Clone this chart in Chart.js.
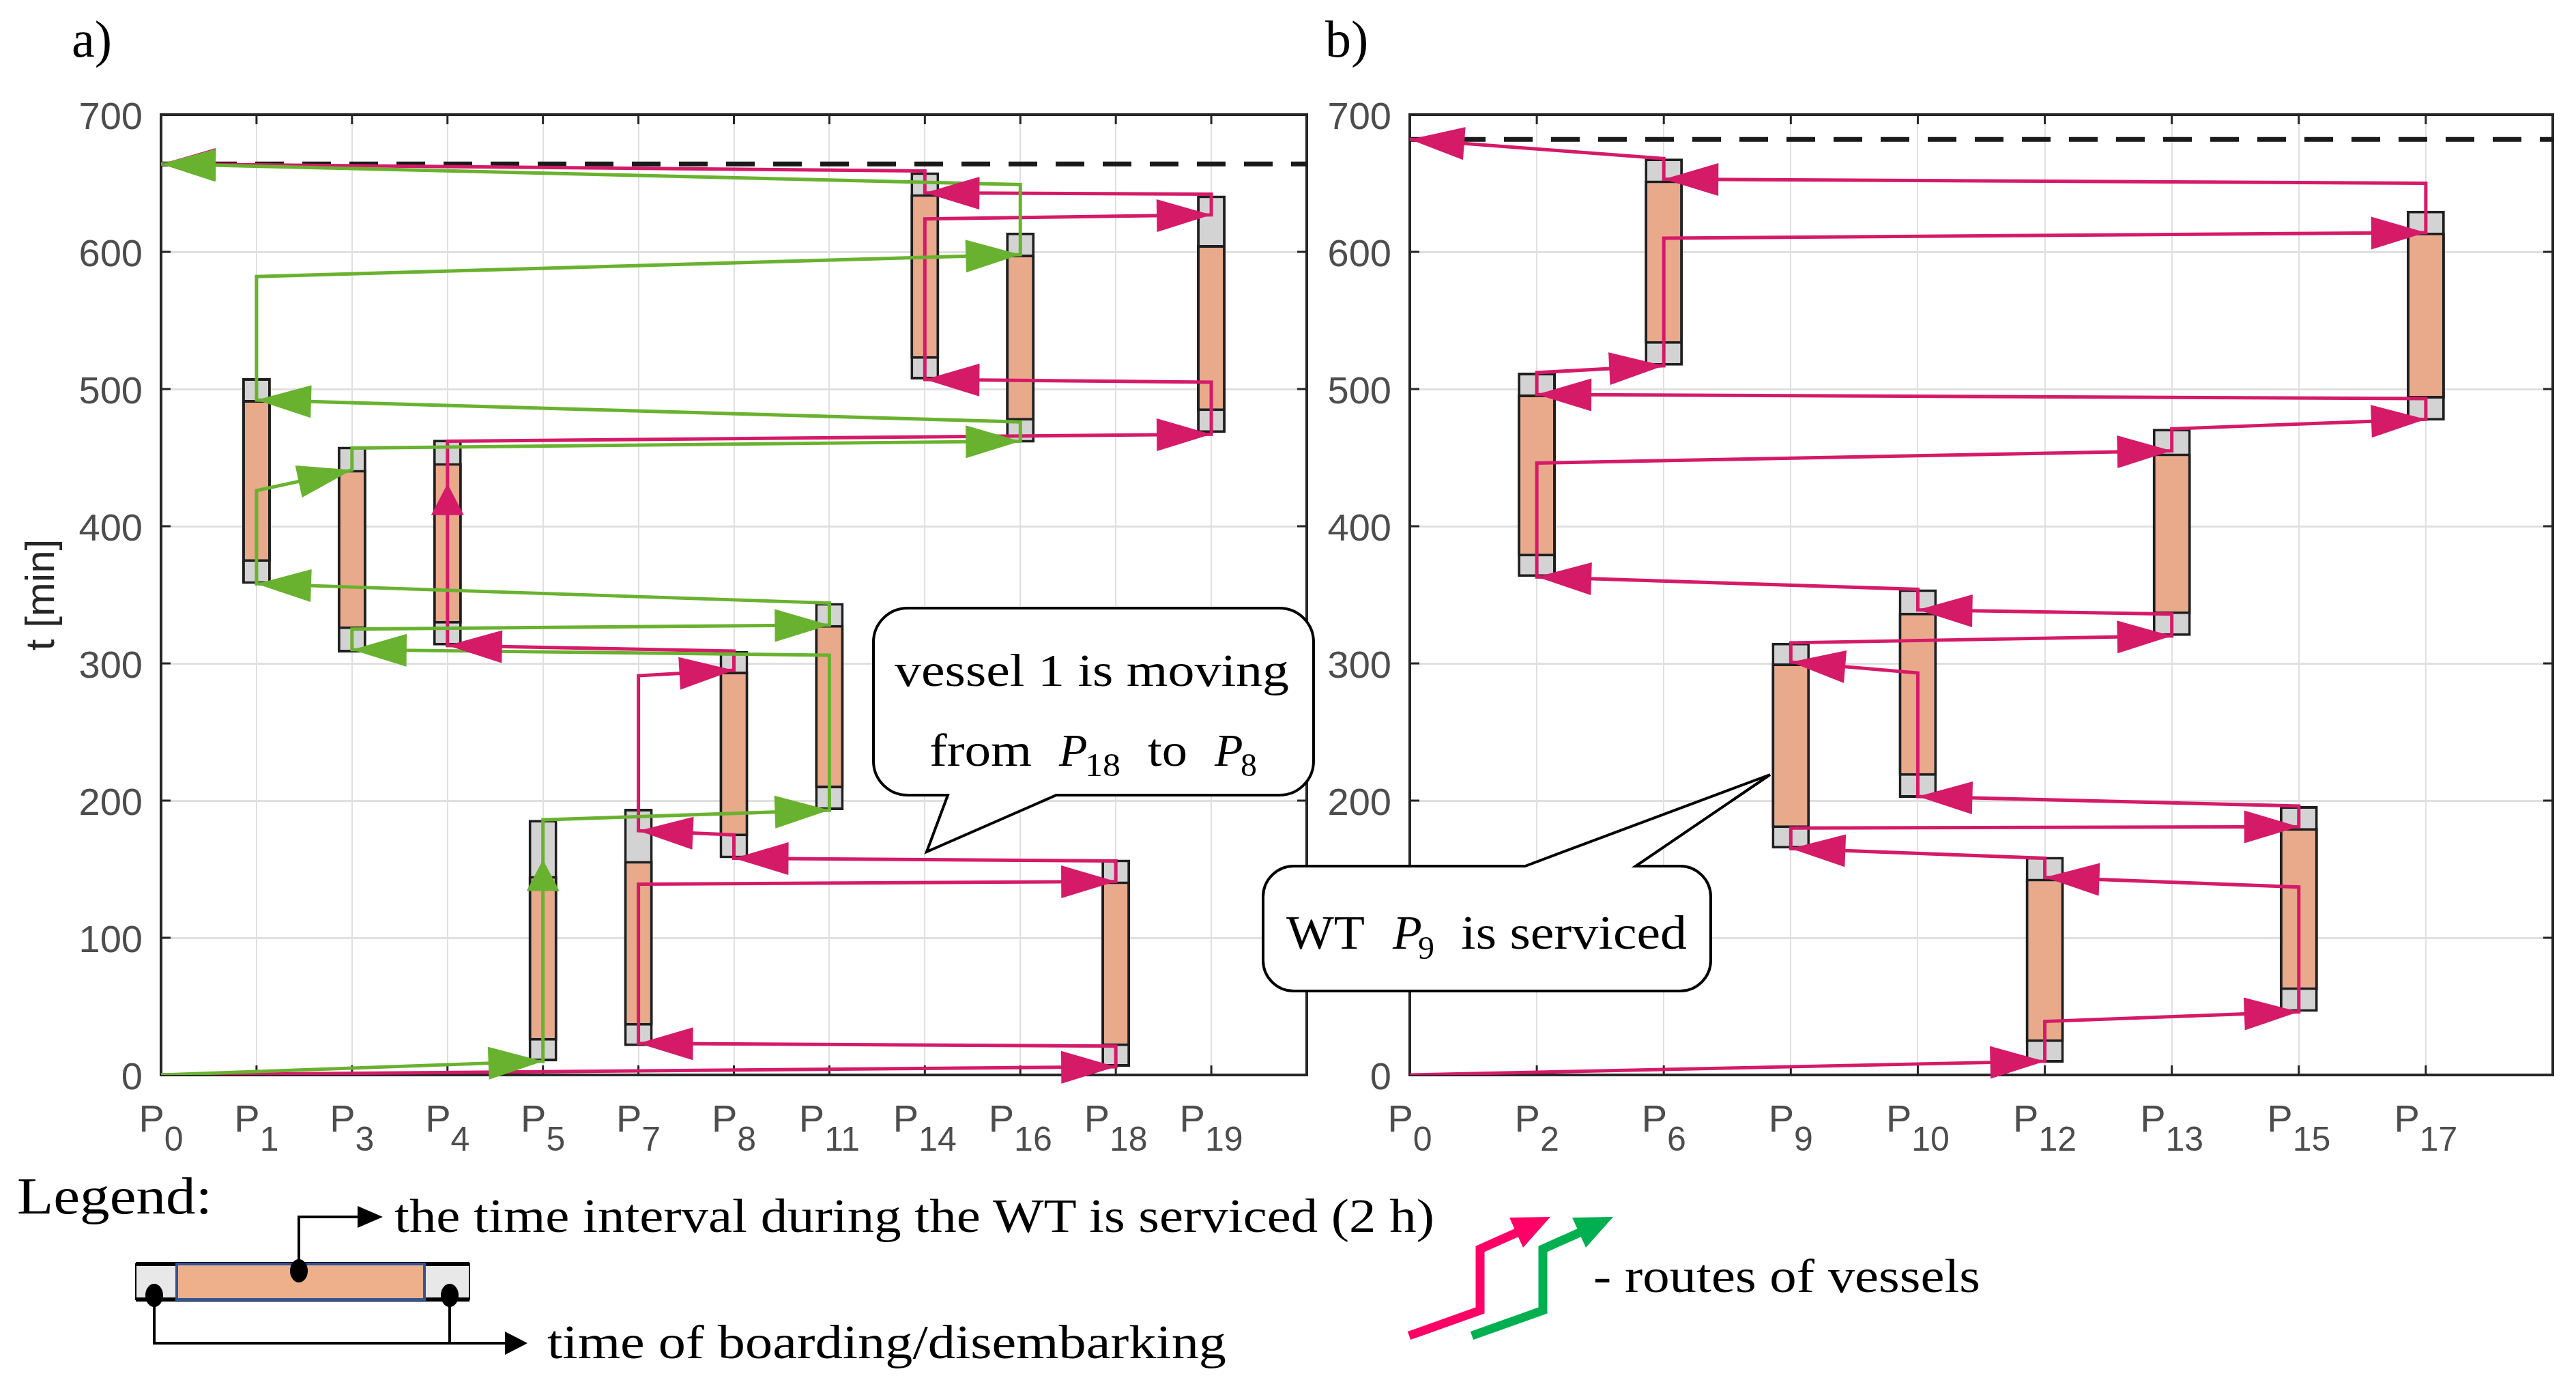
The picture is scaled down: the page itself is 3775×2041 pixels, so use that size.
<!DOCTYPE html>
<html>
<head>
<meta charset="utf-8">
<script src="https://cdn.jsdelivr.net/npm/chart.js@4.4.1/dist/chart.umd.min.js"></script>
<style>
  html, body { margin: 0; padding: 0; background: #fff; }
  body { width: 3775px; height: 2041px; position: relative; overflow: hidden; }
  canvas { position: absolute; top: 0; }
  #chartA { left: 0; }
  #chartB { left: 1930px; }
  svg { position: absolute; left: 0; top: 0; }
</style>
</head>
<body>
<canvas id="chartA" width="1930" height="1720"></canvas>
<canvas id="chartB" width="1845" height="1720"></canvas>

<svg width="3775" height="2041" viewBox="0 0 3775 2041" font-family="'Liberation Serif', serif" fill="#000">
  <text x="105" y="83" font-size="76">a)</text>
  <text x="1942" y="83" font-size="76">b)</text>

  <!-- callout a) -->
  <path d="M 1330 891 H 1875 A 50 50 0 0 1 1925 941 V 1115 A 50 50 0 0 1 1875 1165 H 1548 L 1358 1248 L 1389 1165 H 1330 A 50 50 0 0 1 1280 1115 V 941 A 50 50 0 0 1 1330 891 Z"
        fill="#fff" stroke="#000" stroke-width="4"/>
  <text x="1311" y="1005" font-size="68" textLength="578" lengthAdjust="spacingAndGlyphs">vessel 1 is moving</text>
  <text x="1362" y="1122" font-size="68" textLength="150" lengthAdjust="spacingAndGlyphs">from</text>
  <text x="1552" y="1122" font-size="68" font-style="italic">P</text>
  <text x="1590" y="1137" font-size="48" textLength="52" lengthAdjust="spacingAndGlyphs">18</text>
  <text x="1682" y="1122" font-size="68" textLength="58" lengthAdjust="spacingAndGlyphs">to</text>
  <text x="1780" y="1122" font-size="68" font-style="italic">P</text>
  <text x="1818" y="1137" font-size="48">8</text>

  <!-- callout b) -->
  <path d="M 1896 1269 H 2235 L 2594 1135 L 2397 1269 H 2462 A 45 45 0 0 1 2507 1314 V 1407 A 45 45 0 0 1 2462 1452 H 1896 A 45 45 0 0 1 1851 1407 V 1314 A 45 45 0 0 1 1896 1269 Z"
        fill="#fff" stroke="#000" stroke-width="4"/>
  <text x="1885" y="1390" font-size="70" textLength="115" lengthAdjust="spacingAndGlyphs">WT</text>
  <text x="2041" y="1390" font-size="70" font-style="italic">P</text>
  <text x="2078" y="1405" font-size="48">9</text>
  <text x="2141" y="1390" font-size="70" textLength="331" lengthAdjust="spacingAndGlyphs">is serviced</text>

  <!-- legend -->
  <text x="25" y="1778" font-size="76" textLength="286" lengthAdjust="spacingAndGlyphs">Legend:</text>
  <rect x="199" y="1852" width="489" height="52" fill="#e8e8e8" stroke="#000" stroke-width="2"/>
  <line x1="199" y1="1852" x2="688" y2="1852" stroke="#000" stroke-width="6"/>
  <line x1="199" y1="1904" x2="688" y2="1904" stroke="#000" stroke-width="6"/>
  <rect x="259" y="1852" width="363" height="52" fill="#edb08a" stroke="#2f5597" stroke-width="4"/>
  <polyline points="438,1862 438,1783 530,1783" fill="none" stroke="#000" stroke-width="4"/>
  <polygon points="524,1767 561,1783 524,1799" fill="#000"/>
  <polyline points="226,1898 226,1968 745,1968" fill="none" stroke="#000" stroke-width="4"/>
  <line x1="659" y1="1898" x2="659" y2="1968" stroke="#000" stroke-width="4"/>
  <polygon points="740,1951 773,1968 740,1985" fill="#000"/>
  <ellipse cx="438" cy="1862" rx="13" ry="17" fill="#000"/>
  <ellipse cx="226" cy="1898" rx="13" ry="17" fill="#000"/>
  <ellipse cx="659" cy="1898" rx="13" ry="17" fill="#000"/>
  <text x="578" y="1805" font-size="70" textLength="1524" lengthAdjust="spacingAndGlyphs">the time interval during the WT is serviced (2 h)</text>
  <text x="802" y="1990" font-size="70" textLength="995" lengthAdjust="spacingAndGlyphs">time of boarding/disembarking</text>

  <polyline points="2065,1957 2169,1920 2169,1830 2225,1805" fill="none" stroke="#ff0066" stroke-width="13"/>
  <polygon points="2272,1783 2232,1828 2212,1784" fill="#ff0066"/>
  <polyline points="2157,1957 2261,1920 2261,1830 2317,1805" fill="none" stroke="#00b050" stroke-width="13"/>
  <polygon points="2364,1783 2324,1828 2304,1784" fill="#00b050"/>
  <text x="2335" y="1893" font-size="70" textLength="567" lengthAdjust="spacingAndGlyphs">- routes of vessels</text>
</svg>

<script>
// x positions: P-index shown under each tick (subscripts)
const sitesA = ['0', '1', '3', '4', '5', '7', '8', '11', '14', '16', '18', '19'];
const sitesB = ['0', '2', '6', '9', '10', '12', '13', '15', '17'];

// service of each WT [min]: boarding start, service start, service end, disembarking end
const wtA = [1, 2, 3, 4, 5, 6, 7, 8, 9, 10, 11];
const arriveA = [358, 308, 313, 10, 21, 158, 193, 507, 461, 6, 468];
const serviceStartA = [374, 325, 329, 25, 36, 174, 209, 522, 477, 21, 484];
const serviceEndA = [492, 441, 446, 145, 156, 294, 328, 642, 598, 141, 605];
const departA = [508, 458, 463, 186, 194, 309, 344, 658, 614, 157, 641];

const wtB = [1, 2, 3, 4, 5, 6, 7, 8];
const arriveB = [363, 517, 165, 202, 9, 320, 46, 477];
const serviceStartB = [378, 533, 180, 218, 24, 336, 62, 493];
const serviceEndB = [496, 652, 300, 337, 143, 453, 180, 614];
const departB = [512, 668, 315, 354, 159, 471, 196, 630];

// vessel routes: visited position, time in, time out
const vessel1Site = [0, 10, 5, 10, 6, 5, 6, 3, 11, 8, 11, 8, 0];
const vessel1In = [0, 6, 23, 141, 158, 178, 295, 313, 467, 507, 627, 643, 664];
const vessel1Out = [0, 21, 139, 156, 175, 291, 309, 462, 505, 624, 642, 659, null];
const vessel1Up = [7, 431];

const vessel2Site = [0, 4, 7, 2, 7, 1, 2, 9, 1, 9, 0];
const vessel2In = [0, 10, 193, 310, 328, 358, 441, 462, 492, 598, 664];
const vessel2Out = [0, 186, 306, 325, 344, 426, 457, 476, 582, 649, null];
const vessel2Up = [1, 157];

const vessel3Site = [0, 5, 7, 5, 3, 7, 4, 3, 6, 4, 1, 6, 8, 1, 2, 8, 2, 0];
const vessel3In = [0, 10, 46, 144, 165, 181, 203, 301, 320, 339, 363, 455, 478, 496, 517, 614, 653, 682];
const vessel3Out = [0, 39, 137, 158, 180, 196, 293, 315, 336, 354, 446, 471, 493, 512, 610, 650, 668, null];

const deadlineA = 664;
const deadlineB = 682;

const MAGENTA = '#d51a68';
const GREEN = '#69b22f';
const GRID = '#e0e0e0';
const TICK = '#4d4d4d';

function routePoints(sites, tIn, tOut, up) {
    let pts = [];
    let arrows = [];
    sites.forEach((s, k) => {
        if (k > 0) {
            arrows.push(pts.length);
            pts.push({x: s, y: tIn[k]});
        }
        if (up && up[0] === k) {
            arrows.push(pts.length);
            pts.push({x: s, y: up[1]});
        }
        if (tOut[k] !== null) pts.push({x: s, y: tOut[k]});
    });
    return {pts, arrows};
}

function routeDataset(route, color, order) {
    return {
        type: 'line', data: route.pts, arrowAt: route.arrows,
        borderColor: color, borderWidth: 5, pointRadius: 0, tension: 0, fill: false, order
    };
}

function barDataset(sites, from, to, color, order) {
    return {
        type: 'bar',
        data: sites.map((s, i) => ({x: s, y: [from[i], to[i]]})),
        backgroundColor: color, borderColor: '#1f1f1f', borderWidth: 4, borderSkipped: false,
        grouped: false, barPercentage: 0.3, categoryPercentage: 1, order
    };
}

const arrowHeads = {
    id: 'arrowHeads',
    afterDatasetsDraw(chart) {
        const ctx = chart.ctx;
        const sets = chart.data.datasets;
        for (let i = sets.length - 1; i >= 0; i--) {
            const ds = sets[i];
            if (!ds.arrowAt) continue;
            const pts = chart.getDatasetMeta(i).data;
            ctx.save();
            ctx.fillStyle = ds.borderColor;
            ds.arrowAt.forEach(k => {
                const tip = pts[k], prev = pts[k - 1];
                const dx = tip.x - prev.x, dy = tip.y - prev.y;
                const len = Math.hypot(dx, dy) || 1;
                const ux = dx / len, uy = dy / len;
                const L = Math.abs(dx) > Math.abs(dy) ? 80 : 46;
                const w = 24;
                ctx.beginPath();
                ctx.moveTo(tip.x, tip.y);
                ctx.lineTo(tip.x - ux * L - uy * w, tip.y - uy * L + ux * w);
                ctx.lineTo(tip.x - ux * L + uy * w, tip.y - uy * L - ux * w);
                ctx.closePath();
                ctx.fill();
            });
            ctx.restore();
        }
    }
};

// box around the axes with inward ticks (matlab style)
const frame = {
    id: 'frame',
    beforeDatasetsDraw(chart) {
        const {ctx, chartArea: a, scales: {x, y}} = chart;
        ctx.save();
        ctx.strokeStyle = '#262626';
        ctx.lineWidth = 3;
        ctx.beginPath();
        x.ticks.forEach(t => {
            const px = x.getPixelForValue(t.value);
            ctx.moveTo(px, a.top); ctx.lineTo(px, a.top + 14);
            ctx.moveTo(px, a.bottom); ctx.lineTo(px, a.bottom - 14);
        });
        y.ticks.forEach(t => {
            const py = y.getPixelForValue(t.value);
            ctx.moveTo(a.left, py); ctx.lineTo(a.left + 14, py);
            ctx.moveTo(a.right, py); ctx.lineTo(a.right - 14, py);
        });
        ctx.stroke();
        ctx.lineWidth = 4;
        ctx.strokeRect(a.left, a.top, a.width, a.height);
        ctx.restore();
    }
};

function siteLabels(subs) {
    return {
        id: 'siteLabels',
        afterDraw(chart) {
            const {ctx, chartArea: a, scales: {x}} = chart;
            ctx.save();
            ctx.fillStyle = TICK;
            ctx.textAlign = 'left';
            ctx.textBaseline = 'alphabetic';
            subs.forEach((s, i) => {
                const px = x.getPixelForValue(i);
                ctx.font = '56px "Liberation Sans"';
                const wP = ctx.measureText('P').width;
                ctx.font = '50px "Liberation Sans"';
                const wS = ctx.measureText(s).width;
                const left = px - (wP + wS) / 2;
                ctx.font = '56px "Liberation Sans"';
                ctx.fillText('P', left, a.bottom + 83);
                ctx.font = '50px "Liberation Sans"';
                ctx.fillText(s, left + wP, a.bottom + 111);
            });
            ctx.restore();
        }
    };
}

function drawPanel(cfg) {
    const xMax = cfg.subs.length;
    return new Chart(document.getElementById(cfg.id), {
        type: 'bar',
        data: {
            datasets: [
                ...cfg.routes,
                barDataset(cfg.wt, cfg.svcStart, cfg.svcEnd, '#e9a98b', 8),
                barDataset(cfg.wt, cfg.arrive, cfg.depart, '#d3d3d3', 9),
                {
                    type: 'line', data: [{x: 0, y: cfg.deadline}, {x: xMax, y: cfg.deadline}],
                    borderColor: '#1a1a1a', borderWidth: 7, borderDash: [42, 27], pointRadius: 0, order: 10
                }
            ]
        },
        options: {
            responsive: false,
            animation: false,
            layout: {padding: {top: 168, right: cfg.padRight, bottom: 145, left: 0}},
            plugins: {legend: {display: false}, tooltip: {enabled: false}},
            scales: {
                x: {
                    type: 'linear', min: 0, max: xMax, offset: false,
                    ticks: {display: false, stepSize: 1},
                    grid: {color: GRID, lineWidth: 2, drawTicks: false, offset: false},
                    border: {display: false},
                    afterFit: s => { s.height = 0; }
                },
                y: {
                    min: 0, max: 700,
                    ticks: {stepSize: 100, color: TICK, font: {family: 'Liberation Sans', size: 56}, padding: 27, labelOffset: 6},
                    grid: {color: GRID, lineWidth: 3, drawTicks: false},
                    border: {display: false},
                    title: {
                        display: cfg.title, text: 't [min]', color: '#262626',
                        font: {family: 'Liberation Sans', size: 60}, padding: {top: 26, bottom: 0}
                    },
                    afterFit: s => { s.width = cfg.yWidth; }
                }
            }
        },
        plugins: [frame, arrowHeads, siteLabels(cfg.subs)]
    });
}

drawPanel({
    id: 'chartA', subs: sitesA, title: true, yWidth: 236, padRight: 15,
    wt: wtA, arrive: arriveA, svcStart: serviceStartA, svcEnd: serviceEndA, depart: departA,
    deadline: deadlineA,
    routes: [
        routeDataset(routePoints(vessel2Site, vessel2In, vessel2Out, vessel2Up), GREEN, 0),
        routeDataset(routePoints(vessel1Site, vessel1In, vessel1Out, vessel1Up), MAGENTA, 1)
    ]
});

drawPanel({
    id: 'chartB', subs: sitesB, title: false, yWidth: 136, padRight: 34,
    wt: wtB, arrive: arriveB, svcStart: serviceStartB, svcEnd: serviceEndB, depart: departB,
    deadline: deadlineB,
    routes: [
        routeDataset(routePoints(vessel3Site, vessel3In, vessel3Out, null), MAGENTA, 1)
    ]
});
</script>
</body>
</html>
